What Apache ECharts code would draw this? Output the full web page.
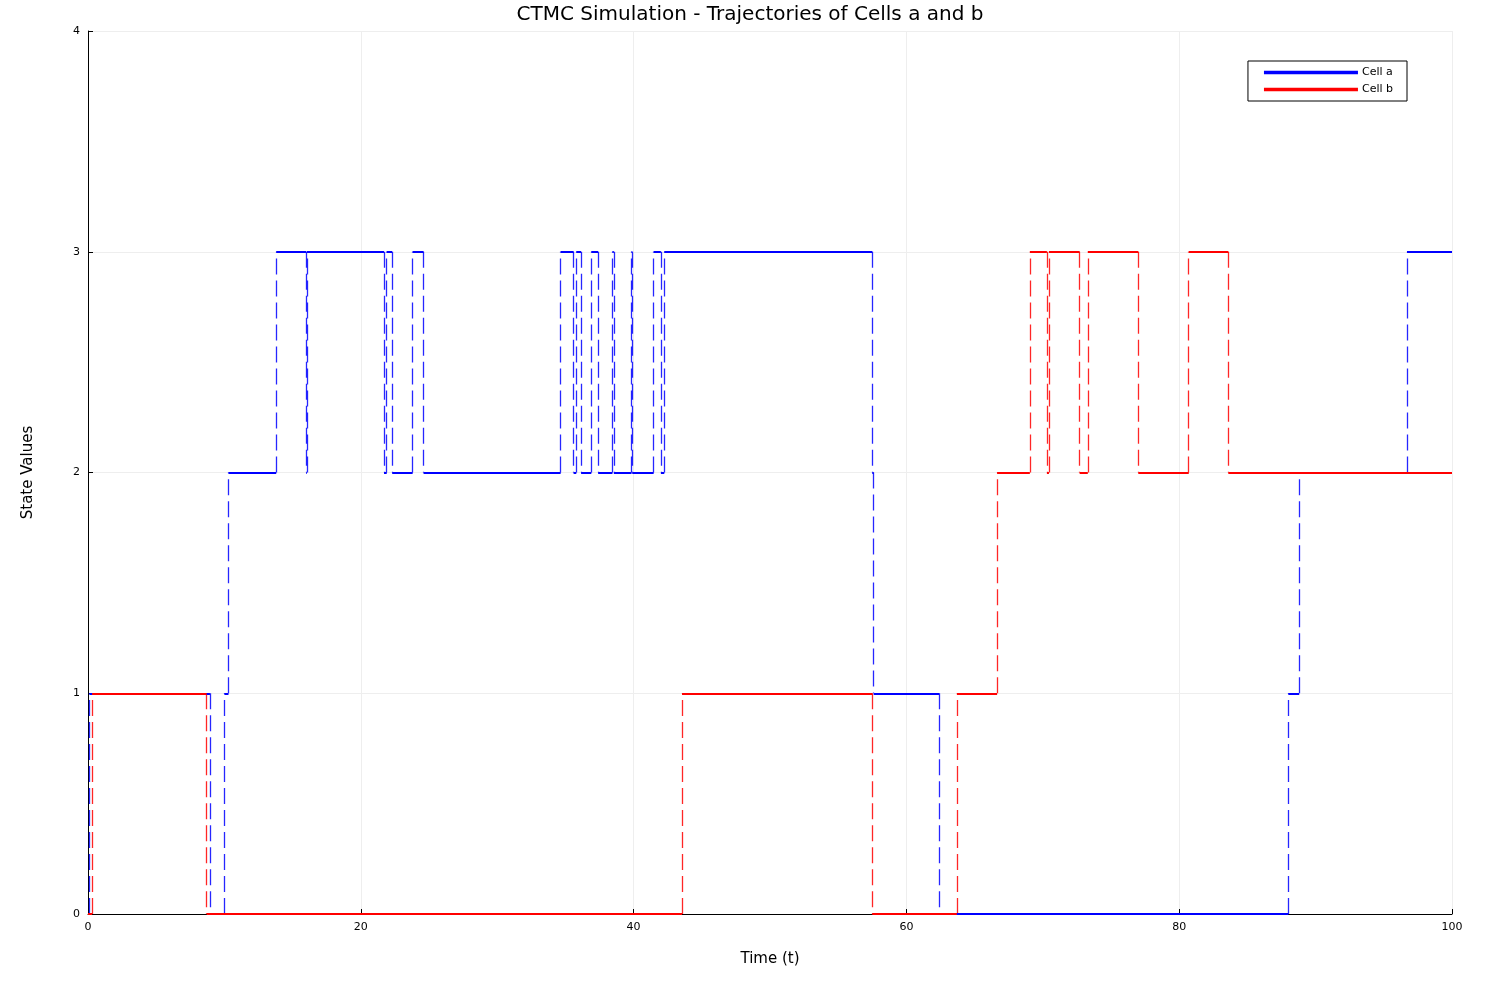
<!DOCTYPE html>
<html>
<head>
<meta charset="utf-8">
<script src="https://cdn.jsdelivr.net/npm/echarts@6/dist/echarts.min.js"></script>
<style>html,body{margin:0;padding:0;background:#fff}#chart{width:1500px;height:1000px}</style>
</head>
<body>
<div id="chart"></div>
<script>
// jump times and states (state holds from time[i] to time[i+1])
var timesA = [0, 0.1, 8.94, 10.0, 10.3, 13.8, 16.0, 16.05, 21.7, 21.9, 22.3, 23.8, 24.6,
  34.65, 35.6, 35.8, 36.15, 36.9, 37.4, 38.45, 38.55, 39.85, 39.9, 41.47, 42.0, 42.25,
  57.5, 57.6, 62.4, 88.0, 88.8, 96.7, 100];
var statesA = [0, 1, 0, 1, 2, 3, 2, 3, 2, 3, 2, 3, 2,
  3, 2, 3, 2, 3, 2, 3, 2, 3, 2, 3, 2, 3,
  2, 1, 0, 1, 2, 3, 3];
var timesB = [0, 0.3, 8.7, 43.55, 57.5, 63.7, 66.65, 69.05, 70.3, 70.45, 72.7, 73.3, 77.0, 80.7, 83.6, 100];
var statesB = [0, 1, 0, 1, 0, 1, 2, 3, 2, 3, 2, 3, 2, 3, 2, 2];

function horiz(t, s){
  var out = [];
  for (var i = 0; i < t.length - 1; i++) out.push({coords: [[t[i], s[i]], [t[i+1], s[i]]]});
  return out;
}
function vert(t, s){
  var out = [];
  for (var i = 0; i < t.length - 1; i++) {
    if (s[i+1] !== s[i]) out.push({coords: [[t[i+1], s[i]], [t[i+1], s[i+1]]]});
  }
  return out;
}
function mk(name, color, t, s){
  return [{
    name: name, type: 'lines', coordinateSystem: 'cartesian2d', polyline: false,
    lineStyle: {color: color, width: 2, type: 'solid', opacity: 1},
    data: horiz(t, s), z: 3
  },{
    name: name, type: 'lines', coordinateSystem: 'cartesian2d', polyline: false,
    lineStyle: {color: color, width: 1.3, type: [16, 6], opacity: 0.85},
    data: vert(t, s), z: 2
  }];
}

var chart = echarts.init(document.getElementById('chart'));
var axisTxt = {color: '#000', fontSize: 11, fontFamily: 'DejaVu Sans'};
chart.setOption({
  animation: false,
  title: {text: 'CTMC Simulation - Trajectories of Cells a and b', left: 'center', top: 0,
    textStyle: {fontSize: 20, fontWeight: 'normal', color: '#000', fontFamily: 'DejaVu Sans'}},
  legend: {
    data: [{name: 'Cell a', itemStyle: {color: 'blue'}}, {name: 'Cell b', itemStyle: {color: 'red'}}],
    orient: 'vertical', right: 93, top: 61, icon: 'rect', itemWidth: 92, itemHeight: 1.5,
    itemGap: 6, padding: [6, 14, 6, 16], borderColor: '#000', borderWidth: 1,
    textStyle: {fontSize: 11, fontFamily: 'DejaVu Sans', color: '#000', width: 50}
  },
  grid: {left: 88, right: 48, top: 31, bottom: 86},
  xAxis: {type: 'value', min: 0, max: 100, interval: 20, name: 'Time (t)', nameLocation: 'middle', nameGap: 38,
    nameTextStyle: {fontSize: 15, color: '#000', fontFamily: 'DejaVu Sans'},
    axisLine: {onZero: false, lineStyle: {color: '#000'}}, axisTick: {inside: true, length: 5, lineStyle: {color: '#000'}},
    axisLabel: axisTxt, splitLine: {show: true, lineStyle: {color: '#eee'}}},
  yAxis: {type: 'value', min: 0, max: 4, interval: 1, name: 'State Values', nameLocation: 'middle', nameGap: 52,
    nameTextStyle: {fontSize: 15, color: '#000', fontFamily: 'DejaVu Sans'},
    axisLine: {show: true, lineStyle: {color: '#000'}}, axisTick: {show: true, inside: true, length: 5, lineStyle: {color: '#000'}},
    axisLabel: axisTxt, splitLine: {show: true, lineStyle: {color: '#eee'}}},
  series: mk('Cell a', 'blue', timesA, statesA).concat(mk('Cell b', 'red', timesB, statesB))
});
</script>
</body>
</html>
